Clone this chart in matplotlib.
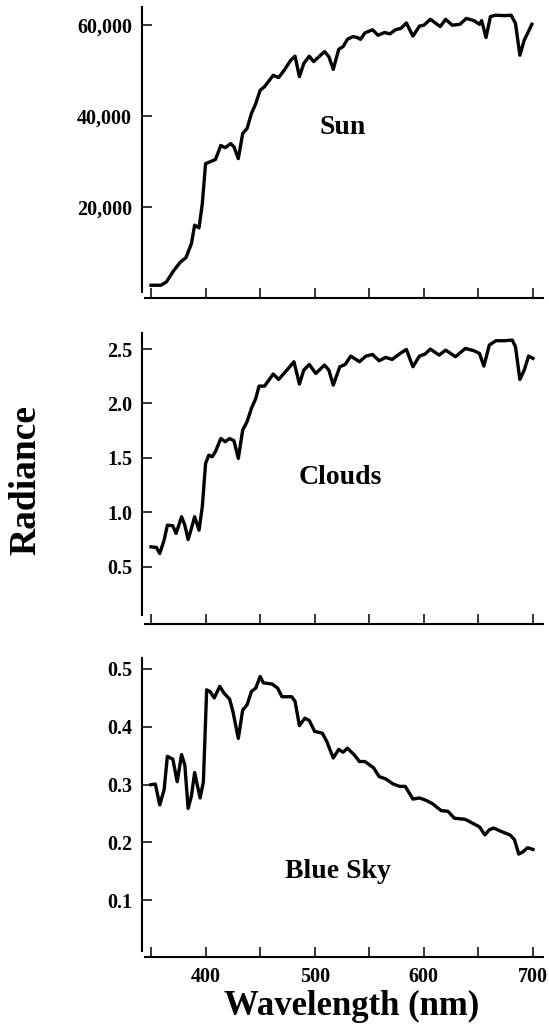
import matplotlib.pyplot as plt
from matplotlib.ticker import FuncFormatter

plt.rcParams['font.family'] = ['Liberation Serif', 'DejaVu Serif']
plt.rcParams['font.weight'] = 'bold'

# Sun spectrum (wavelength nm, radiance)
sun_wl = [350, 359, 364, 371, 377, 382, 387, 390, 394, 397, 400, 405, 409, 414, 418,
          423, 426, 430, 434, 438, 442, 446, 450, 454, 462, 467, 472, 478, 482, 486,
          490, 495, 499, 504, 509, 513, 517, 522, 526, 530, 535, 539, 542, 546, 553,
          558, 564, 569, 574, 579, 584, 590, 596, 600, 606, 615, 620, 626, 633, 639,
          646, 651, 653, 657, 661, 666, 674, 680, 684, 688, 692, 699]
sun_val = [2800, 2800, 3500, 6080, 7900, 8860, 11900, 16000, 15400, 20700, 29500, 30000,
           30400, 33500, 33000, 33900, 33200, 30600, 36100, 37200, 40500, 42700, 45600,
           46400, 48900, 48400, 50000, 52200, 53100, 48600, 51500, 53100, 51900, 53000,
           54100, 53000, 50200, 54600, 55200, 56800, 57400, 57200, 56800, 58200, 58900,
           57700, 58300, 58000, 58900, 59200, 60400, 57500, 59700, 59900, 61200, 59600,
           61200, 59900, 60100, 61400, 60900, 60100, 60900, 57200, 61800, 62100, 62000,
           62100, 60300, 53300, 56600, 60100]

# Clouds spectrum
cloud_wl = [350, 355, 358, 362, 365, 370, 373, 378, 381, 384, 387, 390, 394, 397, 400,
            403, 406, 409, 414, 418, 422, 426, 430, 434, 438, 442, 446, 449, 454, 458,
            462, 467, 475, 481, 486, 490, 495, 501, 509, 513, 517, 523, 528, 533, 541,
            547, 553, 559, 565, 571, 577, 584, 590, 596, 601, 606, 614, 620, 629, 638,
            646, 651, 655, 660, 666, 674, 681, 684, 688, 692, 696, 700]
cloud_val = [0.683, 0.677, 0.622, 0.744, 0.882, 0.876, 0.806, 0.959, 0.882, 0.750, 0.851,
             0.959, 0.836, 1.050, 1.449, 1.525, 1.510, 1.556, 1.678, 1.648, 1.678, 1.657,
             1.495, 1.755, 1.832, 1.954, 2.046, 2.159, 2.159, 2.214, 2.270, 2.220, 2.312,
             2.383, 2.178, 2.306, 2.358, 2.276, 2.352, 2.306, 2.168, 2.337, 2.358, 2.435,
             2.383, 2.435, 2.450, 2.392, 2.423, 2.404, 2.450, 2.496, 2.337, 2.435, 2.453,
             2.499, 2.444, 2.490, 2.429, 2.505, 2.484, 2.459, 2.343, 2.536, 2.576, 2.576,
             2.582, 2.521, 2.220, 2.306, 2.435, 2.414]

# Blue sky spectrum
sky_wl = [350, 354, 358, 362, 365, 370, 374, 378, 381, 384, 387, 390, 392, 395, 398, 401,
          404, 408, 413, 417, 422, 425, 430, 434, 438, 442, 446, 450, 453, 461, 466, 470,
          479, 482, 486, 491, 495, 500, 507, 511, 517, 522, 526, 530, 536, 541, 546, 554,
          559, 565, 572, 578, 583, 590, 596, 602, 608, 616, 622, 628, 638, 645, 651, 656,
          660, 664, 671, 679, 683, 687, 691, 695, 700]
sky_val = [0.300, 0.301, 0.265, 0.291, 0.349, 0.344, 0.305, 0.352, 0.334, 0.259, 0.280,
           0.321, 0.303, 0.277, 0.305, 0.464, 0.461, 0.450, 0.470, 0.458, 0.448, 0.427,
           0.380, 0.429, 0.438, 0.461, 0.467, 0.487, 0.476, 0.474, 0.467, 0.452, 0.452,
           0.444, 0.402, 0.415, 0.411, 0.392, 0.389, 0.375, 0.346, 0.361, 0.356, 0.363,
           0.352, 0.340, 0.340, 0.329, 0.314, 0.310, 0.301, 0.297, 0.297, 0.275, 0.277,
           0.273, 0.267, 0.255, 0.254, 0.242, 0.240, 0.233, 0.227, 0.213, 0.222, 0.225,
           0.219, 0.213, 0.205, 0.180, 0.184, 0.191, 0.188]

x_ticks = [350, 400, 450, 500, 550, 600, 650, 700]
x_labels = ['', '400', '', '500', '', '600', '', '700']

W, H = 549, 1031
fig = plt.figure(figsize=(W / 100, H / 100), dpi=100)

# (top px, bottom px, ylim, spine bounds, yticks, formatter, label, label pos)
panels = [
    (7, 298, (0, 63900), (1300, 63900), [20000, 40000, 60000],
     lambda v, p: f"{int(v):,}", "Sun", (343, 128), sun_wl, sun_val),
    (333, 624, (-0.026, 2.647), (0.056, 2.647), [0.5, 1.0, 1.5, 2.0, 2.5],
     lambda v, p: f"{v:.1f}", "Clouds", (340, 478), cloud_wl, cloud_val),
    (658, 957, (0.002, 0.519), (0.012, 0.519), [0.1, 0.2, 0.3, 0.4, 0.5],
     lambda v, p: f"{v:.1f}", "Blue Sky", (338, 872), sky_wl, sky_val),
]

x0, x1 = 145, 543
for i, (top, bot, ylim, bounds, yt, fmt, name, lpos, wl, val) in enumerate(panels):
    ax = fig.add_axes([x0 / W, (H - bot) / H, (x1 - x0) / W, (bot - top) / H])
    ax.plot(wl, val, color='black', lw=2.4, solid_joinstyle='round')
    ax.set_xlim(344.5, 709.2)
    ax.set_ylim(*ylim)
    ax.spines['top'].set_visible(False)
    ax.spines['right'].set_visible(False)
    ax.spines['left'].set_position(('outward', 2.2))
    ax.spines['left'].set_bounds(*bounds)
    for s in ('left', 'bottom'):
        ax.spines[s].set_linewidth(1.5)
    ax.set_yticks(yt)
    ax.yaxis.set_major_formatter(FuncFormatter(fmt))
    ax.set_xticks(x_ticks)
    if i == 2:
        ax.set_xticklabels(x_labels)
    else:
        ax.set_xticklabels([''] * len(x_ticks))
    ax.tick_params(direction='in', length=7.5, width=1.1, pad=7, labelsize=14.5)
    for lab in ax.get_yticklabels() + ax.get_xticklabels():
        lab.set_fontweight('bold')
    fig.text(lpos[0] / W, 1 - lpos[1] / H, name, ha='center', va='center',
             fontsize=20, fontweight='bold')

fig.text(26 / W, 1 - 480 / H, "Radiance", rotation=90, ha='center', va='center',
         fontsize=27, fontweight='bold')
fig.text(352 / W, 1 - 1006 / H, "Wavelength (nm)", ha='center', va='center',
         fontsize=25, fontweight='bold')

fig.savefig("out.png", dpi=100)
